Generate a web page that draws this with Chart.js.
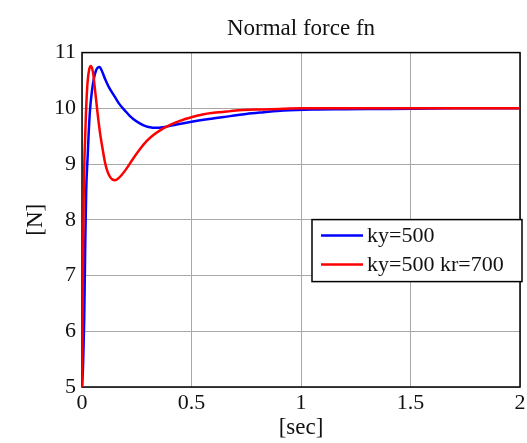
<!DOCTYPE html>
<html>
<head>
<meta charset="utf-8">
<script src="https://cdn.jsdelivr.net/npm/chart.js@4.4.1/dist/chart.umd.min.js"></script>
<style>
	html, body { margin: 0; padding: 0; background: #ffffff; }
	canvas { display: block; }
</style>
</head>
<body>
<canvas id="fnChartCanvas" width="527" height="443"></canvas>
<script>
// series: ky=500
var timeBlue = [0, 0.005, 0.01, 0.015, 0.019, 0.026, 0.031, 0.037, 0.045, 0.055, 0.064, 0.072, 0.08, 0.09, 0.105, 0.12, 0.135, 0.151, 0.17, 0.196, 0.219, 0.234, 0.26, 0.29, 0.31, 0.335, 0.37, 0.432, 0.5, 0.58, 0.676, 0.75, 0.83, 0.92, 1.056, 1.2, 1.4, 1.7, 2.0];
var fnBlue   = [5, 5.4, 6.2, 7.6, 8.5, 9.15, 9.6, 9.99, 10.3, 10.55, 10.68, 10.73, 10.74, 10.68, 10.53, 10.4, 10.3, 10.2, 10.08, 9.96, 9.86, 9.81, 9.74, 9.68, 9.66, 9.65, 9.66, 9.71, 9.76, 9.81, 9.86, 9.9, 9.93, 9.96, 9.98, 9.985, 9.99, 10.0, 10.0];

// series: ky=500 kr=700
var timeRed = [0, 0.002, 0.005, 0.008, 0.012, 0.018, 0.025, 0.033, 0.041, 0.05, 0.059, 0.07, 0.082, 0.095, 0.105, 0.117, 0.128, 0.14, 0.151, 0.165, 0.18, 0.2, 0.234, 0.265, 0.295, 0.326, 0.371, 0.4, 0.45, 0.5, 0.55, 0.6, 0.676, 0.735, 0.83, 0.9, 1.0, 1.5, 2.0];
var fnRed   = [5, 6, 7.5, 8.5, 9.2, 9.9, 10.45, 10.7, 10.76, 10.65, 10.35, 9.95, 9.57, 9.25, 9.03, 8.86, 8.77, 8.72, 8.71, 8.74, 8.8, 8.9, 9.1, 9.27, 9.41, 9.52, 9.64, 9.7, 9.78, 9.84, 9.89, 9.92, 9.95, 9.97, 9.98, 9.99, 10.0, 10.0, 10.0];

var seriesLabels = ['ky=500', 'ky=500 kr=700'];
var seriesColors = ['#0000ff', '#ff0000'];

var xTicks = [0, 0.5, 1, 1.5, 2];
var yTicks = [5, 6, 7, 8, 9, 10, 11];

var serifFont = "'Liberation Serif', 'DejaVu Serif', serif";

function toPoints(tArr, vArr){
	var pts = [];
	for(var i = 0; i < tArr.length; i++){ pts.push({ x: tArr[i], y: vArr[i] }); }
	return pts;
}

// black axes box (drawn under the lines)
var axesBoxPlugin = {
	id: 'axesBox',
	beforeDatasetsDraw: function(chart){
		var a = chart.chartArea;
		var ctx = chart.ctx;
		ctx.save();
		ctx.strokeStyle = '#000000';
		ctx.lineWidth = 1.5;
		ctx.strokeRect(a.left, a.top, a.right - a.left, a.bottom - a.top);
		ctx.restore();
	}
};

// legend box inside the plot, like matlab
var boxLegendPlugin = {
	id: 'boxLegend',
	afterDraw: function(chart){
		var a = chart.chartArea;
		var ctx = chart.ctx;
		var w = 210, h = 62;
		var x0 = a.right + 2 - w;
		var y0 = a.top + 167;
		ctx.save();
		ctx.fillStyle = '#ffffff';
		ctx.fillRect(x0, y0, w, h);
		ctx.strokeStyle = '#000000';
		ctx.lineWidth = 1.5;
		ctx.strokeRect(x0, y0, w, h);
		ctx.font = '22px ' + serifFont;
		ctx.textBaseline = 'middle';
		var ds = chart.data.datasets;
		for(var i = 0; i < ds.length; i++){
			var yy = y0 + 16 + i * 29;
			ctx.strokeStyle = ds[i].borderColor;
			ctx.lineWidth = 2.5;
			ctx.beginPath();
			ctx.moveTo(x0 + 9, yy);
			ctx.lineTo(x0 + 51, yy);
			ctx.stroke();
			ctx.fillStyle = '#111111';
			ctx.fillText(ds[i].label, x0 + 55, yy + 1);
		}
		ctx.restore();
	}
};

(function () {
	'use strict'

	var ctx = document.getElementById('fnChartCanvas');
	var myChart = new Chart(ctx, {
		type: 'line',
		data: {
			datasets: [
				{
					label: seriesLabels[0], borderColor: seriesColors[0], backgroundColor: seriesColors[0], borderWidth: 2.5,
					data: toPoints(timeBlue, fnBlue), fill: false, order: 1
				},
				{
					label: seriesLabels[1], borderColor: seriesColors[1], backgroundColor: seriesColors[1], borderWidth: 2.5,
					data: toPoints(timeRed, fnRed), fill: false, order: 0
				}
			]
		},
		options: {
			responsive: false,
			animation: false,
			layout: { padding: { left: 0, right: 0, top: 0, bottom: 0 } },
			scales: {
				x: {
					type: 'linear', min: 0, max: 2,
					afterBuildTicks: function(scale){ scale.ticks = xTicks.map(function(v){ return { value: v }; }); },
					afterFit: function(scale){ scale.height = 56; scale.paddingRight = 7; },
					ticks: { color: '#111111', padding: 3, font: { family: serifFont, size: 22 },
						callback: function(v){ return String(v); } },
					grid: { color: '#a8a8a8', lineWidth: 1, drawTicks: false },
					border: { display: false },
					title: { display: true, text: '[sec]', color: '#111111', padding: { top: 0, bottom: 1 }, font: { family: serifFont, size: 23 } }
				},
				y: {
					type: 'linear', min: 5, max: 11,
					afterBuildTicks: function(scale){ scale.ticks = yTicks.map(function(v){ return { value: v }; }); },
					afterFit: function(scale){ scale.width = 82; },
					ticks: { color: '#111111', padding: 6, font: { family: serifFont, size: 22 },
						callback: function(v){ return String(v); } },
					grid: { color: '#a8a8a8', lineWidth: 1, drawTicks: false },
					border: { display: false },
					title: { display: true, text: '[N]', color: '#111111', padding: { top: 22, bottom: 0 }, font: { family: serifFont, size: 23 } }
				}
			},
			elements: { point: { radius: 0 }, line: { cubicInterpolationMode: 'monotone' } },
			plugins: {
				title: {
					display: true, fullSize: false, text: 'Normal force fn', color: '#111111',
					padding: { top: 15, bottom: 10 },
					font: { family: serifFont, size: 23, weight: 'normal' }
				},
				legend: { display: false },
				tooltip: { enabled: false }
			}
		},
		plugins: [axesBoxPlugin, boxLegendPlugin]
	});
})()
</script>
</body>
</html>
